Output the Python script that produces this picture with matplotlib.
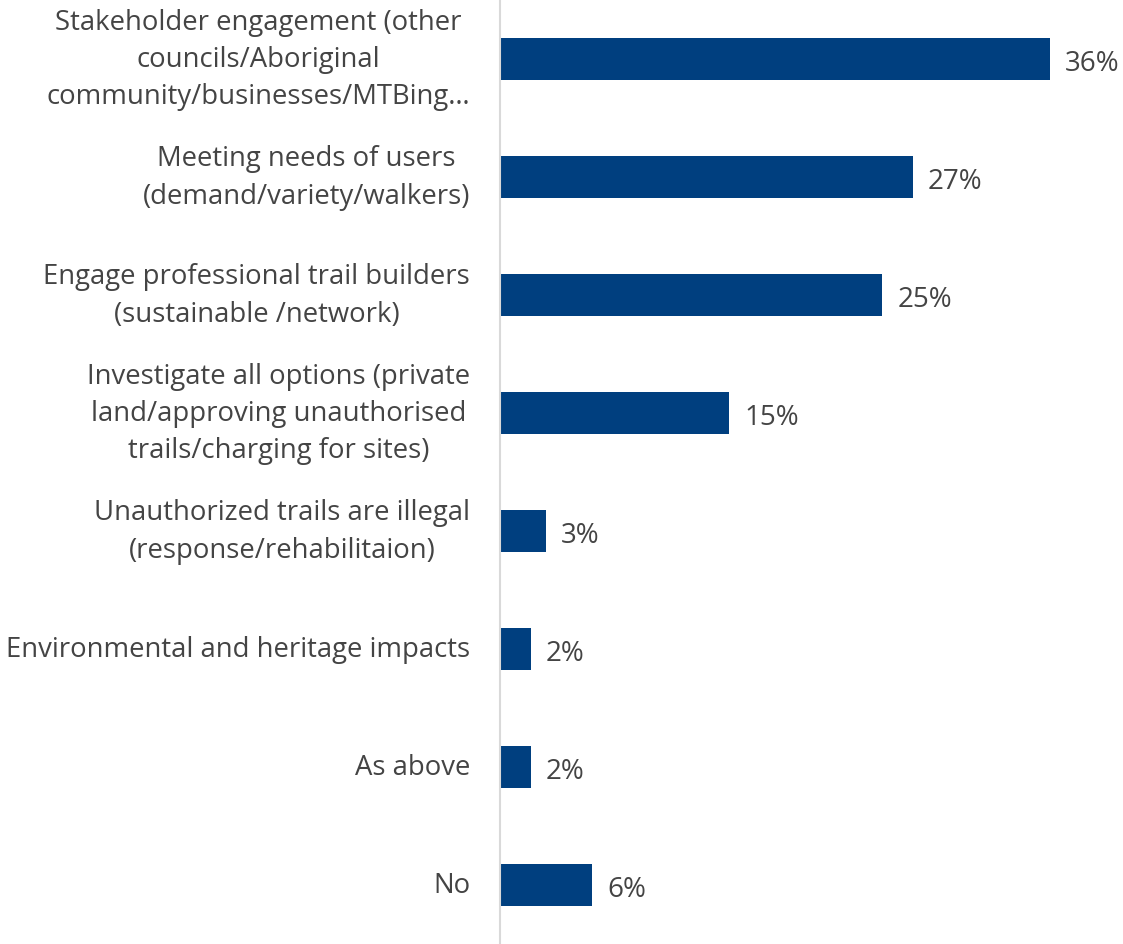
import matplotlib.pyplot as plt

plt.rcParams['font.family'] = ['Open Sans', 'DejaVu Sans']

categories = [
    'Stakeholder engagement (other\ncouncils/Aboriginal\ncommunity/businesses/MTBing…',
    'Meeting needs of users\n(demand/variety/walkers)',
    'Engage professional trail builders\n(sustainable /network)',
    'Investigate all options (private\nland/approving unauthorised\ntrails/charging for sites)',
    'Unauthorized trails are illegal\n(response/rehabilitaion)',
    'Environmental and heritage impacts',
    'As above',
    'No',
]
values = [36, 27, 25, 15, 3, 2, 2, 6]
value_labels = ['36%', '27%', '25%', '15%', '3%', '2%', '2%', '6%']

bar_color = '#003f7f'
text_color = '#444444'

fig = plt.figure(figsize=(11.23, 9.45), dpi=100)
ax = fig.add_axes([500 / 1123, 0.0, 623 / 1123, 944 / 945])

pos = list(range(len(categories)))
ax.barh(pos, values, height=0.35, color=bar_color)
ax.set_xlim(0, 623 / (550 / 36))
ax.set_ylim(len(categories) - 0.5, -0.5)

for p, v, lab in zip(pos, values, value_labels):
    ax.text(v + 1.0, p + 0.03, lab, va='center', ha='left', fontsize=20, color=text_color)

for p, cat in zip(pos, categories):
    ax.annotate(cat, xy=(0, p), xycoords=('axes fraction', 'data'),
                xytext=(-30, 0), textcoords='offset pixels',
                ha='right', va='center', multialignment='center',
                fontsize=19.8, color=text_color, linespacing=1.45)

ax.set_xticks([])
ax.set_yticks([])
for s in ['top', 'right', 'bottom']:
    ax.spines[s].set_visible(False)
ax.spines['left'].set_color('#d9d9d9')
ax.spines['left'].set_linewidth(1.5)

fig.savefig('out.png', dpi=100)
